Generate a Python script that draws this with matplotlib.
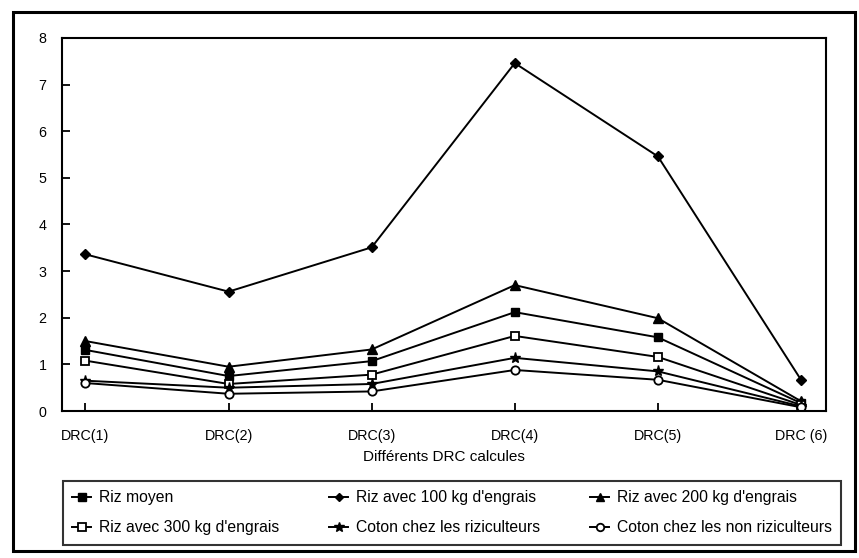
import matplotlib.pyplot as plt
from matplotlib.patches import Rectangle

plt.rcParams['font.family'] = ['Liberation Sans', 'DejaVu Sans']

categories = ['DRC(1)', 'DRC(2)', 'DRC(3)', 'DRC(4)', 'DRC(5)', 'DRC (6)']

riz_moyen = [1.31, 0.75, 1.07, 2.12, 1.58, 0.17]
riz_100 = [3.36, 2.56, 3.51, 7.46, 5.46, 0.67]
riz_200 = [1.50, 0.95, 1.32, 2.70, 1.99, 0.21]
riz_300 = [1.08, 0.58, 0.78, 1.61, 1.16, 0.13]
coton_riz = [0.65, 0.50, 0.58, 1.14, 0.85, 0.10]
coton_non_riz = [0.60, 0.37, 0.42, 0.88, 0.67, 0.08]

labels = ['Riz moyen', "Riz avec 100 kg d'engrais", "Riz avec 200 kg d'engrais",
          "Riz avec 300 kg d'engrais", 'Coton chez les riziculteurs',
          'Coton chez les non riziculteurs']

fig = plt.figure(figsize=(8.59, 5.58), dpi=100)
ax = fig.add_axes([0.0722, 0.2634, 0.8894, 0.6686])

x = list(range(len(categories)))
lw = 1.4
l1, = ax.plot(x, riz_moyen, color='black', lw=lw, marker='s', ms=6, mfc='black')
l2, = ax.plot(x, riz_100, color='black', lw=lw, marker='D', ms=5, mfc='black')
l3, = ax.plot(x, riz_200, color='black', lw=lw, marker='^', ms=7, mfc='black')
l4, = ax.plot(x, riz_300, color='black', lw=lw, marker='s', ms=6, mfc='white', mew=1.3)
l5, = ax.plot(x, coton_riz, color='black', lw=lw, marker='*', ms=8, mfc='black')
l6, = ax.plot(x, coton_non_riz, color='black', lw=lw, marker='o', ms=6, mfc='white', mew=1.3)

ax.set_xlim(-0.164, 5.175)
ax.set_ylim(0, 8)
ax.set_yticks(range(0, 9))
ax.set_xticks(x)
ax.set_xticklabels(categories)
ax.tick_params(axis='both', direction='in', length=6, width=1.3, labelsize=10.3)
ax.tick_params(axis='x', pad=13)
ax.tick_params(axis='y', pad=11)
for s in ax.spines.values():
    s.set_linewidth(1.5)

ax.set_xlabel('Différents DRC calcules', fontsize=11, labelpad=5)

# legende en bas (ordre colonne par colonne)
leg = fig.legend(handles=[l1, l4, l2, l5, l3, l6],
                 labels=[labels[0], labels[3], labels[1], labels[4], labels[2], labels[5]],
                 ncol=3, loc='lower left', bbox_to_anchor=(0.073, 0.024),
                 fontsize=11.3, frameon=True, fancybox=False,
                 edgecolor='black', handlelength=1.2, handletextpad=0.5,
                 columnspacing=3.2, borderaxespad=0, borderpad=0.6,
                 labelspacing=0.95, markerscale=0.9)
leg.get_frame().set_linewidth(1.5)

# cadre exterieur
fig.patches.append(Rectangle((0.015, 0.013), 0.98, 0.965, transform=fig.transFigure,
                             fill=False, edgecolor='black', lw=2.2))

plt.savefig('out.png', dpi=100)
